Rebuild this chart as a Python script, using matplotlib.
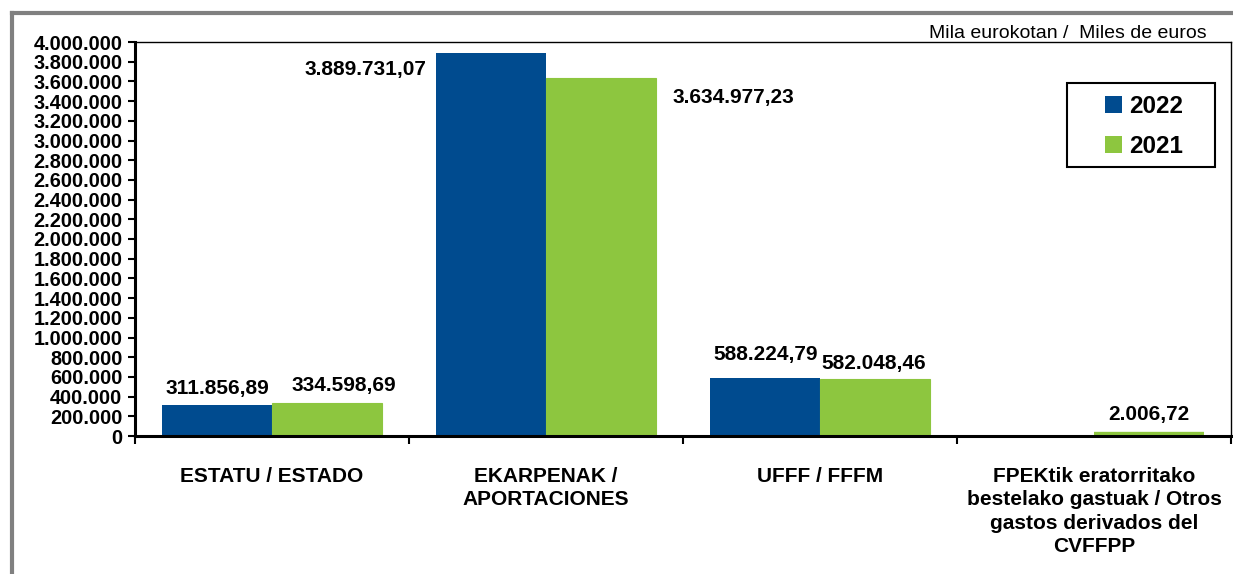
import matplotlib.pyplot as plt
from matplotlib.lines import Line2D
from matplotlib.patches import Rectangle
import numpy as np

plt.rcParams['font.family'] = ['Liberation Sans', 'DejaVu Sans']

# datos (miles de euros)
categorias = ['ESTATU / ESTADO',
              'EKARPENAK /\nAPORTACIONES',
              'UFFF / FFFM',
              'FPEKtik eratorritako\nbestelako gastuak / Otros\ngastos derivados del\nCVFFPP']
valores_2022 = [311856.89, 3889731.07, 588224.79, 0]
valores_2021 = [334598.69, 3634977.23, 582048.46, 2006.72]
etiquetas_2022 = ['311.856,89', '3.889.731,07', '588.224,79', None]
etiquetas_2021 = ['334.598,69', '3.634.977,23', '582.048,46', '2.006,72']
yticks = np.arange(0, 4000001, 200000)

azul = '#004b8f'
verde = '#8dc63f'

W, H = 1233, 574
fig = plt.figure(figsize=(W / 100, H / 100), dpi=100)

# caja del grafico en pixeles
x0, x1, ytop, ybot = 135, 1231, 42, 436
ax = fig.add_axes([x0 / W, (H - ybot) / H, (x1 - x0) / W, (ybot - ytop) / H])

x = np.arange(len(categorias))
ancho = 0.40
b22 = ax.bar(x - ancho / 2, valores_2022, ancho, color=azul, label='2022')
b21 = ax.bar(x + ancho / 2, valores_2021, ancho, color=verde, label='2021',
             edgecolor=verde, linewidth=0.8)
b21[3].set_linewidth(6)  # la barra casi nula se ve como una raya sobre el eje

ax.set_xlim(-0.5, 3.5)
ax.set_ylim(0, 4000000)
ax.set_yticks(yticks)
ax.set_yticklabels(['{:,}'.format(int(v)).replace(',', '.') for v in yticks],
                   fontsize=14.3, fontweight='bold')
ax.tick_params(axis='y', length=5, width=1.5, pad=4)

ax.set_xticks(x)
ax.set_xticklabels(categorias, fontsize=15, fontweight='bold', linespacing=1.3)
ax.tick_params(axis='x', which='major', length=0, pad=22)
ax.set_xticks(np.arange(-0.5, 4, 1), minor=True)
ax.tick_params(axis='x', which='minor', length=6, width=1.5, direction='out')

for lado in ['left', 'bottom']:
    ax.spines[lado].set_linewidth(2.2)
for lado in ['top', 'right']:
    ax.spines[lado].set_linewidth(1)

# desplazamientos de las etiquetas (pixeles): (dx, dy, ha, ancla)
pos_22 = [(0, 17, 'center', 'centro'), (-10, -17, 'right', 'izq'),
          (0, 24, 'center', 'centro'), None]
pos_21 = [(17, 18, 'center', 'centro'), (17, -20, 'left', 'der'),
          (-1, 15, 'center', 'centro'), (0, 21, 'center', 'centro')]

for barras, textos, posiciones in [(b22, etiquetas_2022, pos_22), (b21, etiquetas_2021, pos_21)]:
    for rect, txt, pos in zip(barras, textos, posiciones):
        if txt is None:
            continue
        dx, dy, ha, ancla = pos
        if ancla == 'izq':
            xa = rect.get_x()
        elif ancla == 'der':
            xa = rect.get_x() + rect.get_width()
        else:
            xa = rect.get_x() + rect.get_width() / 2
        ax.annotate(txt, xy=(xa, rect.get_height()), xytext=(dx, dy),
                    textcoords='offset pixels', ha=ha, va='center',
                    fontsize=15, fontweight='bold')

# leyenda sin marco, el marco se dibuja aparte
leg = ax.legend(loc='center',
                bbox_to_anchor=((1144 - x0) / (x1 - x0), (ybot - 126.5) / (ybot - ytop)),
                prop={'size': 17.5, 'weight': 'bold'}, frameon=False,
                handlelength=0.7, handleheight=0.7, handletextpad=0.3,
                borderpad=0, labelspacing=0.68, borderaxespad=0)
for h in leg.legend_handles:
    h.set_linewidth(0)
fig.add_artist(Rectangle((1067 / W, (H - 167) / H), (1215 - 1067) / W, 84 / H,
                         transform=fig.transFigure, fill=False, edgecolor='black',
                         linewidth=1.5))

fig.text(1207 / W, (H - 33) / H, 'Mila eurokotan /  Miles de euros',
         ha='right', va='center', fontsize=14)

# marco gris de la hoja
gris = '#808080'
fig.add_artist(Line2D([12 / W, 1], [(H - 13) / H] * 2, color=gris, linewidth=3,
                      transform=fig.transFigure))
fig.add_artist(Line2D([12 / W] * 2, [0, (H - 13) / H], color=gris, linewidth=3,
                      transform=fig.transFigure))

fig.savefig('out.png', dpi=100)
